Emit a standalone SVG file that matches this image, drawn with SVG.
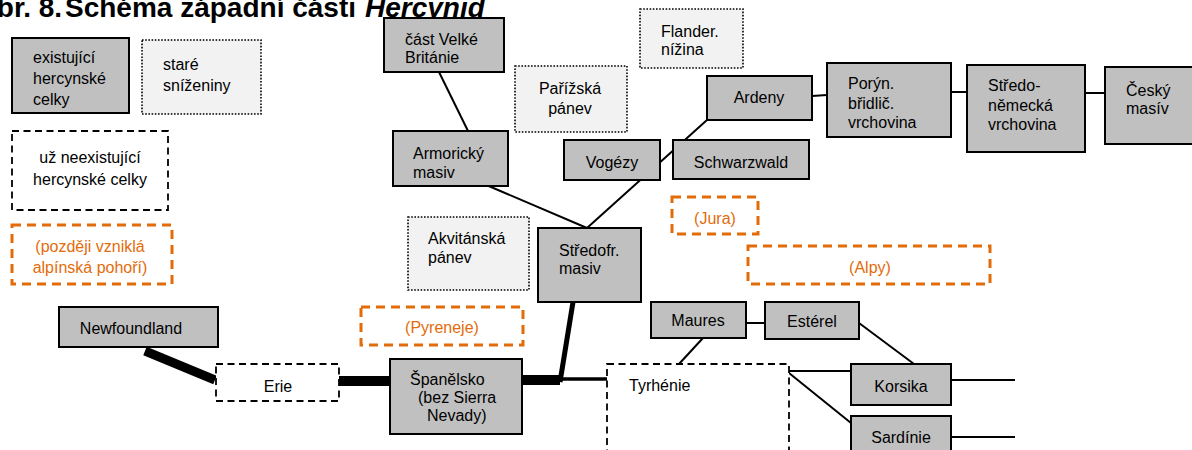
<svg xmlns="http://www.w3.org/2000/svg" width="1192" height="450" viewBox="0 0 1192 450">
<style>
text{font-family:"Liberation Sans",Arial,sans-serif;font-size:16px;fill:#000}
.o{fill:#e36c0a}
.m{text-anchor:middle}
.g{fill:#c0c0c0;stroke:#000;stroke-width:2}
.d{fill:#f2f2f2;stroke:#000;stroke-width:1.6;stroke-dasharray:1.6 1.6}
.k{fill:#fff;stroke:#000;stroke-width:1.8;stroke-dasharray:7 4.5}
.a{fill:#fff;stroke:#e36c0a;stroke-width:3;stroke-dasharray:9 6}
.c{stroke:#000;fill:none;stroke-width:2}
.t{font-size:28px;font-weight:bold}
</style>
<rect width="1192" height="450" fill="#fff"/>
<text class="t" y="17"><tspan x="-25">Obr. 8.</tspan> <tspan x="65">Schéma západní části</tspan> <tspan x="365" font-style="italic">Hercynid</tspan></text>
<g id="connectors">
<line class="c" x1="587" y1="228" x2="707" y2="120"/>
<line class="c" x1="484" y1="184" x2="587" y2="228"/>
<line class="c" x1="439" y1="72" x2="468" y2="131"/>
<line class="c" x1="812" y1="96" x2="827" y2="95"/>
<line class="c" x1="951" y1="92" x2="967" y2="92"/>
<line class="c" x1="1085" y1="93" x2="1105" y2="93"/>
<line class="c" x1="746" y1="323" x2="765" y2="323"/>
<line class="c" x1="703" y1="338" x2="679" y2="364"/>
<line class="c" x1="859" y1="323" x2="914" y2="364"/>
<line class="c" x1="789" y1="371" x2="851" y2="371"/>
<line class="c" x1="789" y1="373" x2="851" y2="423"/>
<line class="c" x1="951" y1="380" x2="1015" y2="380"/>
<line class="c" x1="951" y1="437" x2="1015" y2="437"/>
<line stroke="#000" stroke-width="9" x1="145" y1="351" x2="215" y2="380"/>
<line stroke="#000" stroke-width="10" x1="339" y1="381" x2="390" y2="381"/>
<line stroke="#000" stroke-width="10" x1="522" y1="380" x2="560" y2="380"/>
<line stroke="#000" stroke-width="5" x1="560" y1="382" x2="573" y2="302"/>
<line stroke="#000" stroke-width="3.5" x1="560" y1="379" x2="608" y2="379"/>
</g>
<g id="legend-existing"><rect class="g" x="12" y="38" width="117" height="75"/><text x="33" y="63">existující</text><text x="33" y="84">hercynské</text><text x="33" y="105">celky</text></g>
<g id="legend-old"><rect class="d" x="142" y="40" width="119" height="74"/><text x="163" y="70">staré</text><text x="163" y="91">sníženiny</text></g>
<g id="legend-gone"><rect class="k" x="12" y="131" width="156" height="79"/><text class="m" x="90" y="163">už neexistující</text><text class="m" x="90" y="185">hercynské celky</text></g>
<g id="legend-alpine"><rect class="a" x="12" y="225" width="160" height="59"/><text class="m o" x="90" y="252">(později vzniklá</text><text class="m o" x="90" y="273">alpínská pohoří)</text></g>
<g id="britanie"><rect class="g" x="384" y="18" width="120" height="54"/><text x="405" y="45">část Velké</text><text x="405" y="63">Británie</text></g>
<g id="flander"><rect class="d" x="640" y="9" width="103" height="59"/><text x="661" y="37">Flander.</text><text x="661" y="55">nížina</text></g>
<g id="parizska"><rect class="d" x="515" y="66" width="112" height="66"/><text class="m" x="570" y="94">Pařížská</text><text class="m" x="570" y="114">pánev</text></g>
<g id="armoricky"><rect class="g" x="393" y="131" width="115" height="55"/><text x="413" y="159">Armorický</text><text x="413" y="178">masiv</text></g>
<g id="vogezy"><rect class="g" x="564" y="140" width="96" height="40"/><text class="m" x="612" y="168">Vogézy</text></g>
<g id="schwarzwald"><rect class="g" x="673" y="140" width="136" height="39"/><text class="m" x="741" y="168">Schwarzwald</text></g>
<g id="ardeny"><rect class="g" x="707" y="76" width="105" height="44"/><text class="m" x="759" y="103">Ardeny</text></g>
<g id="poryn"><rect class="g" x="827" y="63" width="124" height="74"/><text x="848" y="89">Porýn.</text><text x="848" y="109">břidlič.</text><text x="848" y="128">vrchovina</text></g>
<g id="stredonemecka"><rect class="g" x="967" y="65" width="118" height="87"/><text x="988" y="91">Středo-</text><text x="988" y="111">německá</text><text x="988" y="130">vrchovina</text></g>
<g id="cesky"><rect class="g" x="1105" y="67" width="100" height="77"/><text x="1126" y="96">Český</text><text x="1126" y="114">masív</text></g>
<g id="jura"><rect class="a" x="672" y="197" width="86" height="37"/><text class="m o" x="715" y="224">(Jura)</text></g>
<g id="alpy"><rect class="a" x="748" y="246" width="242" height="38"/><text class="m o" x="870" y="273">(Alpy)</text></g>
<g id="akvitanska"><rect class="d" x="408" y="217" width="121" height="73"/><text x="428" y="244">Akvitánská</text><text x="428" y="263">pánev</text></g>
<g id="stredofr"><rect class="g" x="538" y="228" width="103" height="74"/><text x="559" y="256">Středofr.</text><text x="559" y="274">masiv</text></g>
<g id="pyreneje"><rect class="a" x="361" y="307" width="162" height="38"/><text class="m o" x="442" y="333">(Pyreneje)</text></g>
<g id="newfoundland"><rect class="g" x="59" y="307" width="159" height="40"/><text class="m" x="131" y="334">Newfoundland</text></g>
<g id="erie"><rect class="k" x="216" y="364" width="123" height="37"/><text class="m" x="278" y="392">Erie</text></g>
<g id="spanelsko"><rect class="g" x="390" y="359" width="132" height="75"/><text x="410" y="385">Španělsko</text><text x="418" y="403">(bez Sierra</text><text x="427" y="421">Nevady)</text></g>
<g id="tyrhenie"><rect class="k" x="607" y="364" width="182" height="100"/><text x="629" y="391">Tyrhénie</text></g>
<g id="maures"><rect class="g" x="651" y="302" width="95" height="36"/><text class="m" x="698" y="326">Maures</text></g>
<g id="esterel"><rect class="g" x="765" y="302" width="94" height="37"/><text class="m" x="812" y="327">Estérel</text></g>
<g id="korsika"><rect class="g" x="851" y="364" width="100" height="41"/><text class="m" x="901" y="392">Korsika</text></g>
<g id="sardinie"><rect class="g" x="851" y="416" width="100" height="44"/><text class="m" x="901" y="443">Sardínie</text></g>
</svg>
